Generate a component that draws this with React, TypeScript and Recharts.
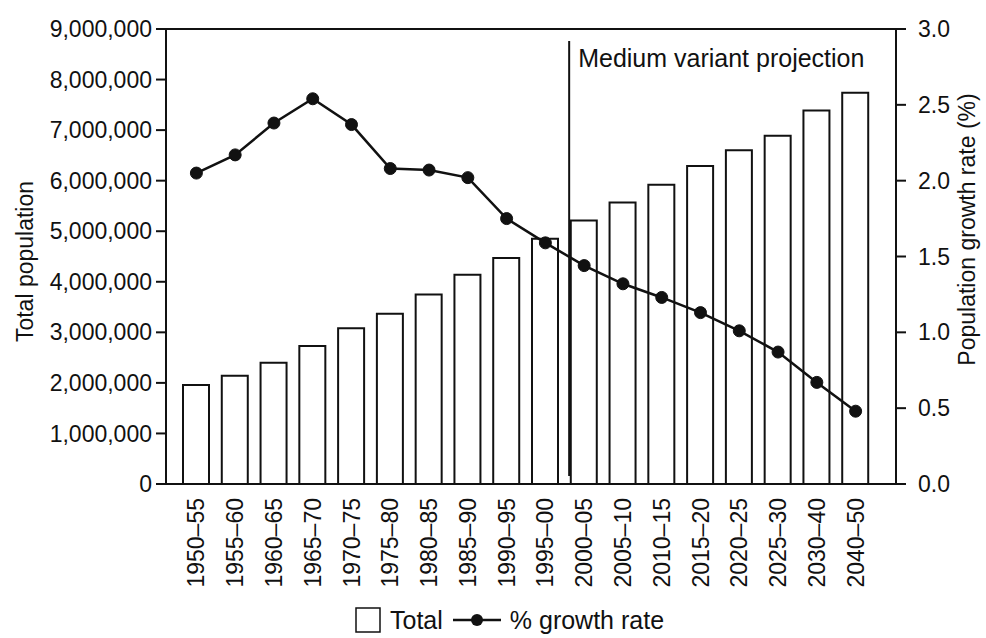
import {
  Bar,
  ComposedChart,
  Legend,
  Line,
  ReferenceLine,
  XAxis,
  YAxis,
} from "recharts";

const PERIODS = [
  "1950–55", "1955–60", "1960–65", "1965–70", "1970–75", "1975–80",
  "1980–85", "1985–90", "1990–95", "1995–00", "2000–05", "2005–10",
  "2010–15", "2015–20", "2020–25", "2025–30", "2030–40", "2040–50",
];
const TOTAL = [
  1960000, 2140000, 2400000, 2730000, 3080000, 3370000,
  3750000, 4140000, 4470000, 4850000, 5210000, 5570000,
  5920000, 6290000, 6600000, 6890000, 7390000, 7740000,
];
const GROWTH = [
  2.05, 2.17, 2.38, 2.54, 2.37, 2.08,
  2.07, 2.02, 1.75, 1.59, 1.44, 1.32,
  1.23, 1.13, 1.01, 0.87, 0.67, 0.48,
];
const POP_TICKS = [0, 1000000, 2000000, 3000000, 4000000, 5000000, 6000000, 7000000, 8000000, 9000000];
const RATE_TICKS = [0, 0.5, 1, 1.5, 2, 2.5, 3];
const PROJECTION_START = "2000–05";
const PROJECTION_LABEL = "Medium variant projection";
const LEGEND_ORDER = ["Total", "% growth rate"];

const data = PERIODS.map((period, i) => ({ period, total: TOTAL[i], growth: GROWTH[i] }));

const FONT = '"Liberation Sans", Arial, Helvetica, sans-serif';
const INK = "#111";

function PeriodTick({ x, y, payload }: any) {
  const ty = y + 6;
  return (
    <text
      x={x}
      y={ty}
      transform={`rotate(-90 ${x} ${ty})`}
      textAnchor="end"
      dy="0.35em"
      fontSize={23}
      fill={INK}
    >
      {payload.value}
    </text>
  );
}

function axisTitle(dx: number, dy: number) {
  return (p: any) => {
    const vb = p.viewBox;
    const cx = vb.x + dx;
    const cy = vb.y + vb.height / 2 + dy;
    return (
      <text
        x={cx}
        y={cy}
        transform={`rotate(-90 ${cx} ${cy})`}
        textAnchor="middle"
        dominantBaseline="central"
        fontSize={23}
        fill={INK}
      >
        {p.value}
      </text>
    );
  };
}

// vertical divider sits just left of the first projected bar
function ProjectionMark(props: any) {
  const x = props.x1 - 15;
  const top = Math.min(props.y1, props.y2);
  const bottom = Math.max(props.y1, props.y2);
  return (
    <g>
      <line x1={x} x2={x} y1={top + 12} y2={bottom - 8} stroke={INK} strokeWidth={2} />
      <text x={x + 9} y={top + 38} fontSize={25} fill={INK}>
        {PROJECTION_LABEL}
      </text>
    </g>
  );
}

function LegendContent({ payload }: any) {
  const items = [...(payload ?? [])].sort(
    (a: any, b: any) => LEGEND_ORDER.indexOf(a.value) - LEGEND_ORDER.indexOf(b.value)
  );
  return (
    <div
      style={{
        display: "flex",
        alignItems: "center",
        height: 32,
        paddingLeft: 355,
        fontSize: 25,
        color: INK,
      }}
    >
      {items.map((entry: any) => (
        <div key={entry.value} style={{ display: "flex", alignItems: "center", marginRight: 10 }}>
          {entry.type === "square" ? (
            <svg width={26} height={26}>
              <rect x={1} y={1} width={24} height={24} fill="#fff" stroke={INK} strokeWidth={1.5} />
            </svg>
          ) : (
            <svg width={48} height={16}>
              <line x1={0} x2={48} y1={8} y2={8} stroke={INK} strokeWidth={2.5} />
              <circle cx={24} cy={8} r={6} fill={INK} />
            </svg>
          )}
          <span style={{ marginLeft: 9 }}>{entry.value}</span>
        </div>
      ))}
    </div>
  );
}

export default function App() {
  return (
    <div style={{ position: "absolute", left: 0, top: 0, background: "#fff", fontFamily: FONT }}>
      <ComposedChart
        width={986}
        height={638}
        data={data}
        margin={{ top: 29, right: 0, bottom: 2, left: 0 }}
        style={{ fontFamily: FONT }}
      >
        <XAxis
          dataKey="period"
          interval={0}
          height={120}
          tickLine={false}
          axisLine={{ stroke: INK, strokeWidth: 2 }}
          padding={{ left: 11, right: 21 }}
          tick={<PeriodTick />}
        />
        <YAxis
          yAxisId="left"
          width={166}
          domain={[0, 9000000]}
          ticks={POP_TICKS}
          interval={0}
          tickFormatter={(v: number) => v.toLocaleString("en-US")}
          tickSize={10}
          tickMargin={4}
          axisLine={{ stroke: INK, strokeWidth: 2 }}
          tickLine={{ stroke: INK, strokeWidth: 2 }}
          tick={{ fill: INK, fontSize: 23 }}
          label={{ value: "Total population", content: axisTitle(25, 5) }}
        />
        <YAxis
          yAxisId="right"
          orientation="right"
          width={90}
          domain={[0, 3]}
          ticks={RATE_TICKS}
          interval={0}
          tickFormatter={(v: number) => v.toFixed(1)}
          tickSize={10}
          tickMargin={12}
          axisLine={{ stroke: INK, strokeWidth: 2 }}
          tickLine={{ stroke: INK, strokeWidth: 2 }}
          tick={{ fill: INK, fontSize: 23 }}
          label={{ value: "Population growth rate (%)", content: axisTitle(71, -27) }}
        />
        <ReferenceLine yAxisId="left" y={9000000} stroke={INK} strokeWidth={2} />
        <Bar
          yAxisId="left"
          dataKey="total"
          name="Total"
          legendType="square"
          fill="#fff"
          stroke={INK}
          strokeWidth={2}
          barSize={26}
          isAnimationActive={false}
        />
        <ReferenceLine yAxisId="left" x={PROJECTION_START} shape={<ProjectionMark />} />
        <Line
          yAxisId="right"
          dataKey="growth"
          name="% growth rate"
          legendType="line"
          type="linear"
          stroke={INK}
          strokeWidth={2.5}
          dot={{ r: 6, fill: INK, stroke: INK, strokeWidth: 1 }}
          activeDot={false}
          isAnimationActive={false}
        />
        <Legend verticalAlign="bottom" content={<LegendContent />} />
      </ComposedChart>
    </div>
  );
}
